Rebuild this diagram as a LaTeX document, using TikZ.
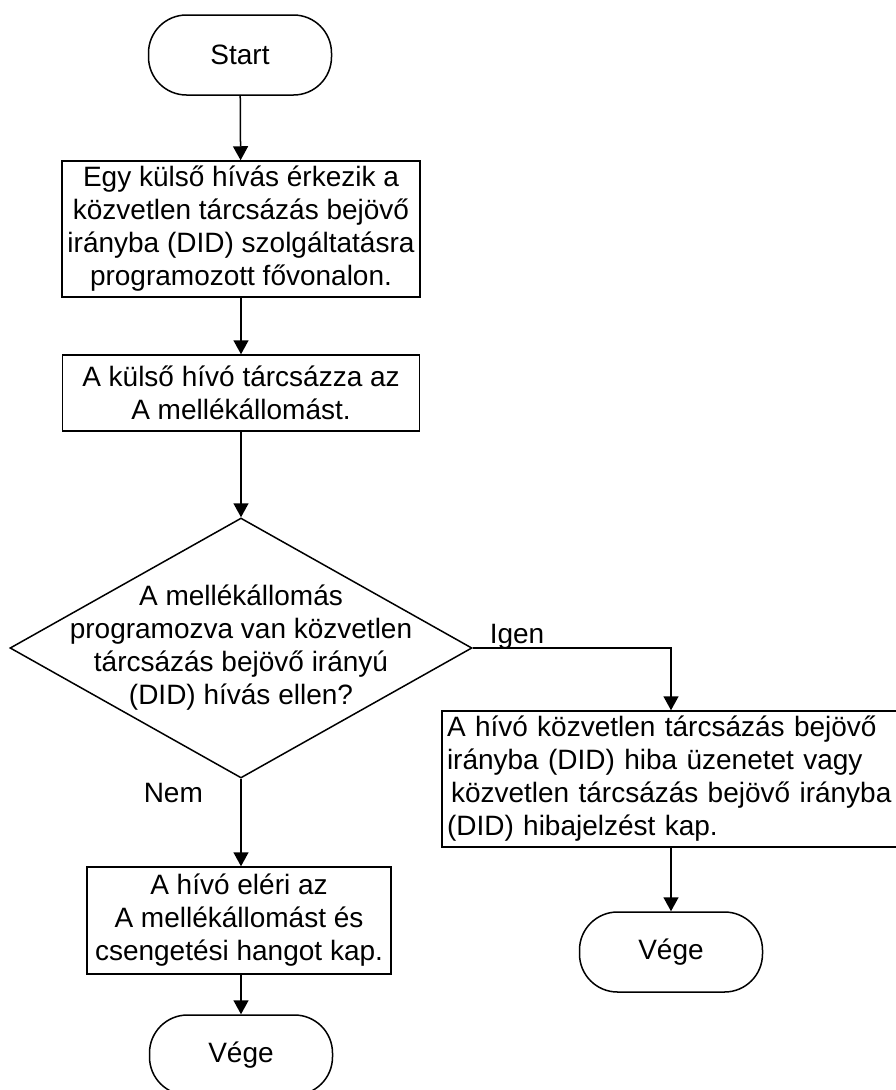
\documentclass[tikz,border=0pt]{standalone}
\usepackage{fontspec}
\setmainfont{Liberation Sans}
\usetikzlibrary{shapes.geometric, arrows.meta}

\begin{document}
\begin{tikzpicture}[x=1pt, y=1pt, >={Triangle[length=14pt,width=15pt]},
  line width=1.5pt,
  every node/.style={font=\fontsize{28}{33}\selectfont},
  term/.style={draw, rounded corners=38pt, minimum width=183pt, minimum height=80pt, inner sep=0pt},
  proc/.style={draw, align=center, inner sep=0pt},
  decision/.style={draw, diamond, minimum width=462pt, minimum height=260pt, inner sep=0pt}]
  \useasboundingbox (0,0) rectangle (896,-1090);
  % Indulás
  \node[term] (start) at (240,-55) {Start};
  \node[proc, minimum width=358pt, minimum height=136pt] (hivas) at (241,-229)
    {Egy külső hívás érkezik a\\közvetlen tárcsázás bejövő\\irányba (DID) szolgáltatásra\\programozott fővonalon.};
  \node[proc, minimum width=357pt, minimum height=76pt] (tarcsaz) at (241,-393)
    {A külső hívó tárcsázza az\\A mellékállomást.};
  % Döntés
  \node[decision] (kerdes) at (241,-648) {};
  \node[align=center, inner sep=0pt] (kerdesszoveg) at (kerdes)
    {A mellékállomás\\programozva van közvetlen\\tárcsázás bejövő irányú\\(DID) hívás ellen?};
  % Igen ág
  \node[proc, align=left, text width=448pt, minimum height=136pt, inner sep=5pt] (hiba) at (671,-779)
    {A hívó közvetlen tárcsázás bejövő\\irányba (DID) hiba üzenetet vagy\\\hspace*{4pt}közvetlen tárcsázás bejövő irányba\\(DID) hibajelzést kap.};
  \node[term] (vege2) at (671,-952) {Vége};
  % Nem ág
  \node[proc, minimum width=304pt, minimum height=107pt] (eleri) at (239,-920.5)
    {A hívó eléri az\\A mellékállomást és\\csengetési hangot kap.};
  \node[term] (vege1) at (241,-1055) {Vége};
  % Feliratok
  \node[anchor=base west, inner sep=0pt] (igen) at (489,-643) {Igen};
  \node[anchor=base west, inner sep=0pt] (nem) at (143,-802) {Nem};
  % Nyilak
  \draw[->] (start) -- (hivas);
  \draw[->] (hivas) -- (tarcsaz);
  \draw[->] (tarcsaz) -- (kerdes);
  \draw[->] (kerdes.east) -| (hiba.north);
  \draw[->] (hiba) -- (vege2);
  \draw[->] (kerdes.south) -- (kerdes.south |- eleri.north);
  \draw[->] (eleri.south -| kerdes.south) -- (vege1);
\end{tikzpicture}
\end{document}
